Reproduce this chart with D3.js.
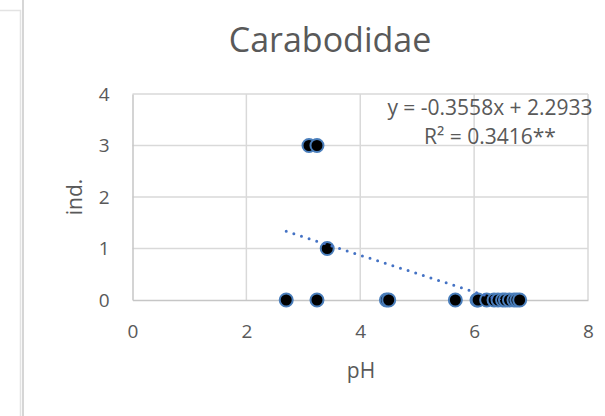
<!DOCTYPE html>
<html>
<head>
<meta charset="utf-8">
<script src="https://cdn.jsdelivr.net/npm/d3@7/dist/d3.min.js"></script>
<style>
  body { margin: 0; background: #fff; }
  text { font-family: "Open Sans", sans-serif; fill: #595959; }
</style>
</head>
<body>
<div id="graphics"></div>
<script>
// pH values and individual counts
var phValues = [2.7, 3.24, 4.46, 4.5, 5.67, 6.05, 6.07, 6.22, 6.35, 6.42, 6.5, 6.55, 6.62, 6.7, 6.75, 6.8, 3.1, 3.24, 3.42];
var indValues = [0, 0, 0, 0, 0, 0, 0, 0, 0, 0, 0, 0, 0, 0, 0, 0, 3, 3, 1];
var xTicks = [0, 2, 4, 6, 8];
var yTicks = [0, 1, 2, 3, 4];
var trendSlope = -0.3558;
var trendIntercept = 2.2933;
var equationLines = ["y = -0.3558x + 2.2933", "R² = 0.3416**"];

function drawScatter() {
  var w = 605;
  var h = 416;

  var svg = d3.select("#graphics")
            .append("svg")
            .attr("width", w)
            .attr("height", h);

  // borders of the neighbouring panel on the left
  svg.append("path")
     .attr("d", "M0,10.5H20.5V416")
     .attr("fill", "none")
     .attr("stroke", "#e3e3e3")
     .attr("stroke-width", 1.5);
  svg.append("line")
     .attr("x1", 23).attr("x2", 23)
     .attr("y1", 0).attr("y2", h)
     .attr("stroke", "#d6d6d6")
     .attr("stroke-width", 2);

  var x = d3.scaleLinear().domain([0, 8]).range([132.5, 588]);
  var y = d3.scaleLinear().domain([0, 4]).range([300, 94]);

  // gridlines
  svg.append("g")
     .selectAll("line.v")
     .data(xTicks.slice(1))
     .enter()
     .append("line")
     .attr("x1", function(d) { return x(d); })
     .attr("x2", function(d) { return x(d); })
     .attr("y1", y(0))
     .attr("y2", y(4))
     .attr("stroke", "#d9d9d9")
     .attr("stroke-width", 1.5);

  svg.append("g")
     .selectAll("line.h")
     .data(yTicks.slice(1))
     .enter()
     .append("line")
     .attr("x1", x(0))
     .attr("x2", x(8))
     .attr("y1", function(d) { return y(d); })
     .attr("y2", function(d) { return y(d); })
     .attr("stroke", "#d9d9d9")
     .attr("stroke-width", 1.5);

  // axes
  var xAxis = svg.append("g")
     .attr("transform", "translate(0," + y(0) + ")")
     .call(d3.axisBottom(x).tickValues(xTicks).tickSize(0).tickPadding(25).tickFormat(d3.format("d")));
  var yAxis = svg.append("g")
     .attr("transform", "translate(" + x(0) + ",0)")
     .call(d3.axisLeft(y).tickValues(yTicks).tickSize(0).tickPadding(23).tickFormat(d3.format("d")));

  [xAxis, yAxis].forEach(function(a) {
    a.select(".domain").attr("stroke", "#c6c6c6").attr("stroke-width", 1.5);
    a.selectAll("text")
     .attr("font-family", "Open Sans, sans-serif")
     .attr("font-size", "19px")
     .attr("fill", "#595959");
  });

  svg.append("clipPath")
     .attr("id", "plotclip")
     .append("rect")
     .attr("x", x(0)).attr("y", y(4))
     .attr("width", x(8) - x(0))
     .attr("height", y(0) - y(4));

  // points
  svg.selectAll("circle")
     .data(phValues)
     .enter()
     .append("circle")
     .attr("cx", function(d) { return x(d); })
     .attr("cy", function(d, i) { return y(indValues[i]); })
     .attr("r", 6.5)
     .attr("fill", "#000")
     .attr("stroke", "#4a7ebb")
     .attr("stroke-width", 2);

  // linear trendline over the range of the data
  var x0 = d3.min(phValues), x1 = d3.max(phValues);
  svg.append("line")
     .attr("clip-path", "url(#plotclip)")
     .attr("x1", x(x0))
     .attr("y1", y(trendSlope * x0 + trendIntercept))
     .attr("x2", x(x1))
     .attr("y2", y(trendSlope * x1 + trendIntercept))
     .attr("stroke", "#4472c4")
     .attr("stroke-width", 3)
     .attr("stroke-linecap", "round")
     .attr("stroke-dasharray", "0,8");

  // equation label
  svg.selectAll("text.eq")
     .data(equationLines)
     .enter()
     .append("text")
     .attr("class", "eq")
     .text(function(d) { return d; })
     .attr("text-anchor", "middle")
     .attr("x", 490)
     .attr("y", function(d, i) { return 115 + i * 29; })
     .attr("font-size", "21px");

  // titles
  svg.append("text")
     .text("Carabodidae")
     .attr("text-anchor", "middle")
     .attr("x", 330)
     .attr("y", 52)
     .attr("font-size", "34px");

  svg.append("text")
     .text("pH")
     .attr("text-anchor", "middle")
     .attr("x", 361)
     .attr("y", 378)
     .attr("font-size", "21px");

  svg.append("text")
     .text("ind.")
     .attr("text-anchor", "middle")
     .attr("transform", "translate(82,197) rotate(-90)")
     .attr("font-size", "21px");
}

drawScatter();
</script>
</body>
</html>
